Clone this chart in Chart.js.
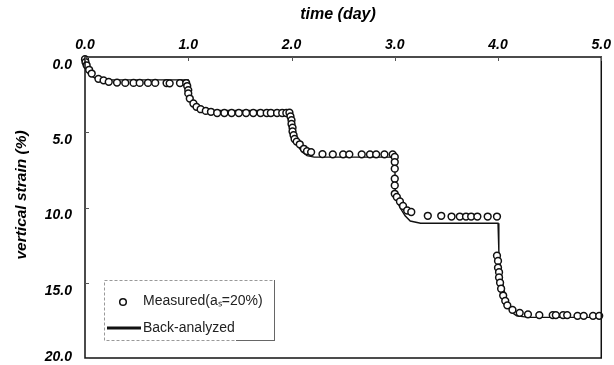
<!DOCTYPE html>
<html><head><meta charset="utf-8">
<script src="https://cdn.jsdelivr.net/npm/chart.js@4.4.0/dist/chart.umd.min.js"></script>
<style>html,body{margin:0;padding:0;background:#fff;}#wrap{width:614px;height:365px;}</style>
</head><body><div id="wrap"><canvas id="c" width="614" height="365"></canvas></div>
<script>
const xTicks = [0, 1, 2, 3, 4, 5];
const yTicks = [0, 5, 10, 15, 20];
const xTitle = 'time (day)';
const yTitle = 'vertical strain (%)';
const measuredLabel = 'Measured(aₛ=20%)';
const backLabel = 'Back-analyzed';

const measuredDay = [
  0.00, 0.005, 0.016, 0.04, 0.065, 0.13, 0.18, 0.23, 0.31, 0.39, 0.47, 0.53, 0.61, 0.68, 0.79, 0.82, 0.92, 0.98,
  0.99, 1.00, 1.00, 1.015, 1.05, 1.08, 1.12, 1.17, 1.22,
  1.28, 1.35, 1.42, 1.49, 1.56, 1.63, 1.70, 1.76, 1.80, 1.86, 1.91, 1.95,
  1.98, 1.99, 2.00, 2.00, 2.01, 2.01, 2.02, 2.03, 2.05, 2.08, 2.12, 2.15, 2.19,
  2.30, 2.40, 2.50, 2.56, 2.68, 2.76, 2.82, 2.90, 2.98,
  3.00, 3.00, 3.00, 3.00, 3.00, 3.00, 3.02, 3.05, 3.08, 3.12, 3.16,
  3.32, 3.45, 3.55, 3.63, 3.69, 3.74, 3.80, 3.90, 3.99,
  3.99, 4.00, 4.00, 4.01, 4.01, 4.02, 4.03, 4.05, 4.07, 4.09, 4.14,
  4.21, 4.29, 4.40, 4.53, 4.56, 4.63, 4.67, 4.77, 4.83, 4.92, 4.98
];
const measuredStrain = [
  0.15, 0.35, 0.55, 0.85, 1.10, 1.45, 1.55, 1.65, 1.70, 1.72, 1.72, 1.72, 1.72, 1.72, 1.73, 1.75, 1.73, 1.73,
  1.93, 2.20, 2.42, 2.76, 3.09, 3.31, 3.47, 3.58, 3.64,
  3.72, 3.72, 3.72, 3.72, 3.72, 3.72, 3.72, 3.72, 3.72, 3.72, 3.72, 3.72,
  3.70, 3.95, 4.20, 4.45, 4.70, 4.95, 5.20, 5.45, 5.62, 5.80, 6.10, 6.25, 6.32,
  6.45, 6.47, 6.47, 6.47, 6.47, 6.47, 6.47, 6.47, 6.47,
  6.64, 6.98, 7.42, 8.09, 8.53, 9.09, 9.30, 9.60, 9.90, 10.20, 10.30,
  10.55, 10.55, 10.60, 10.60, 10.60, 10.60, 10.60, 10.60, 10.60,
  13.20, 13.55, 14.00, 14.30, 14.65, 15.00, 15.40, 15.85, 16.20, 16.50, 16.80,
  17.00, 17.10, 17.15, 17.15, 17.15, 17.15, 17.15, 17.20, 17.20, 17.20, 17.20
];

const backDay = [
  0, 0.01, 0.025, 0.05, 0.10, 0.20, 1.00,
  1.002, 1.02, 1.05, 1.10, 1.15, 1.25, 2.00,
  2.005, 2.03, 2.06, 2.10, 2.15, 2.22, 3.00,
  3.005, 3.02, 3.05, 3.10, 3.15, 3.25, 4.00,
  4.008, 4.04, 4.08, 4.12, 4.18, 4.30, 5.00
];
const backStrain = [
  0, 0.45, 0.85, 1.20, 1.42, 1.52, 1.52,
  2.10, 2.60, 3.00, 3.33, 3.47, 3.55, 3.55,
  4.50, 5.30, 5.90, 6.30, 6.55, 6.65, 6.65,
  9.00, 9.50, 10.00, 10.55, 10.90, 11.05, 11.05,
  12.90, 14.80, 16.20, 16.90, 17.20, 17.30, 17.30
];

const tickFont = 'italic bold 14px "Liberation Sans", Arial, sans-serif';

const decor = {
  id: 'decor',
  afterDraw(chart) {
    const ctx = chart.ctx, a = chart.chartArea;
    const xs = chart.scales.x, ys = chart.scales.y;
    ctx.save();
    // frame
    ctx.strokeStyle = '#111';
    ctx.lineWidth = 1.5;
    ctx.strokeRect(a.left, a.top, a.right - a.left, a.bottom - a.top);
    // inward tick marks
    ctx.lineWidth = 1;
    ctx.strokeStyle = '#555';
    xTicks.forEach(v => {
      const px = Math.round(xs.getPixelForValue(v)) + 0.5;
      ctx.beginPath(); ctx.moveTo(px, a.top); ctx.lineTo(px, a.top + 4); ctx.stroke();
    });
    yTicks.forEach(v => {
      const py = Math.round(ys.getPixelForValue(v)) + 0.5;
      ctx.beginPath(); ctx.moveTo(a.left, py); ctx.lineTo(a.left + 4, py); ctx.stroke();
    });
    // y tick labels
    ctx.fillStyle = '#000';
    ctx.font = tickFont;
    ctx.textAlign = 'right';
    ctx.textBaseline = 'middle';
    yTicks.forEach(v => {
      let py = ys.getPixelForValue(v) + 8;
      if (py > chart.height - 8) py = chart.height - 8;
      ctx.fillText(v.toFixed(1), a.left - 13, py);
    });
    // axis titles
    ctx.font = 'italic bold 16px "Liberation Sans", Arial, sans-serif';
    ctx.textAlign = 'center';
    ctx.fillText(xTitle, 338, 15);
    ctx.save();
    ctx.translate(22, 195);
    ctx.rotate(-Math.PI / 2);
    ctx.font = 'italic bold 15.5px "Liberation Sans", Arial, sans-serif';
    ctx.fillText(yTitle, 0, 0);
    ctx.restore();
    // legend box
    ctx.strokeStyle = '#999';
    ctx.lineWidth = 1;
    ctx.setLineDash([3, 2]);
    ctx.strokeRect(104.5, 280.5, 170, 60);
    ctx.setLineDash([]);
    ctx.strokeStyle = '#666';
    ctx.beginPath(); ctx.moveTo(274.5, 280); ctx.lineTo(274.5, 341); ctx.stroke();
    ctx.beginPath(); ctx.moveTo(236, 340.5); ctx.lineTo(275, 340.5); ctx.stroke();
    // legend items
    ctx.strokeStyle = '#111';
    ctx.fillStyle = '#fff';
    ctx.lineWidth = 1.5;
    ctx.beginPath(); ctx.arc(123, 302, 3.3, 0, Math.PI * 2); ctx.fill(); ctx.stroke();
    ctx.lineWidth = 3;
    ctx.beginPath(); ctx.moveTo(107, 328); ctx.lineTo(141, 328); ctx.stroke();
    ctx.fillStyle = '#222';
    ctx.font = '14px "Liberation Sans", Arial, sans-serif';
    ctx.textAlign = 'left';
    ctx.fillText(measuredLabel, 143, 301);
    ctx.fillText(backLabel, 143, 328);
    ctx.restore();
  }
};

new Chart(document.getElementById('c'), {
  type: 'scatter',
  data: {
    datasets: [
      {
        label: measuredLabel,
        data: measuredDay.map((d, i) => ({ x: d, y: measuredStrain[i] })),
        pointRadius: 3.4,
        pointBorderWidth: 1.5,
        pointBackgroundColor: '#fff',
        pointBorderColor: '#111',
        showLine: false,
        clip: 6
      },
      {
        label: backLabel,
        data: backDay.map((d, i) => ({ x: d, y: backStrain[i] })),
        showLine: true,
        borderColor: '#111',
        borderWidth: 1.4,
        pointRadius: 0,
        tension: 0,
        fill: false
      }
    ]
  },
  options: {
    responsive: false,
    devicePixelRatio: 1,
    animation: false,
    layout: { padding: { left: 0, right: 12, top: 0, bottom: 7 } },
    plugins: { legend: { display: false }, tooltip: { enabled: false }, title: { display: false } },
    scales: {
      x: {
        type: 'linear', position: 'top', min: 0, max: 5,
        afterBuildTicks: s => { s.ticks = xTicks.map(v => ({ value: v })); },
        ticks: { callback: v => Number(v).toFixed(1), font: { family: '"Liberation Sans", Arial, sans-serif', size: 14, style: 'italic', weight: 'bold' }, color: '#000', padding: 3, maxRotation: 0 },
        grid: { display: false, drawTicks: false },
        border: { display: false },
        afterFit: s => { s.height = 57; }
      },
      y: {
        type: 'linear', reverse: true, min: 0, max: 20,
        afterBuildTicks: s => { s.ticks = yTicks.map(v => ({ value: v })); },
        ticks: { display: false },
        grid: { display: false, drawTicks: false },
        border: { display: false },
        afterFit: s => { s.width = 85; }
      }
    }
  },
  plugins: [decor]
});
</script>
</body></html>
